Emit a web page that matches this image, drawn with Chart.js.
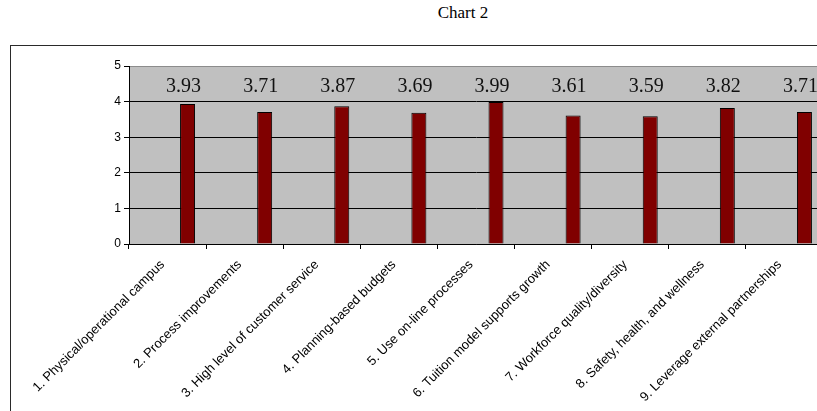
<!DOCTYPE html>
<html>
<head>
<meta charset="utf-8">
<script src="https://cdn.jsdelivr.net/npm/chart.js@4/dist/chart.umd.min.js"></script>
<style>
  html, body { margin: 0; padding: 0; background: #fff; overflow: hidden; width: 817px; height: 411px; }
  #title { position: absolute; left: 0; top: 3px; width: 926px; text-align: center;
           font: 17px "Liberation Serif", "Times New Roman", serif; color: #000; }
  #frame { position: absolute; left: 10px; top: 45px; width: 870px; height: 400px; border: 1px solid #2a2a2a; }
  #frame canvas { display: block; }
</style>
</head>
<body>
<div id="title">Chart 2</div>
<div id="frame"><canvas id="c" width="870" height="400"></canvas></div>
<script>
// Survey goal areas and their mean ratings (1-5 scale)
const categories = [
  "1. Physical/operational campus",
  "2. Process improvements",
  "3. High level of customer service",
  "4. Planning-based budgets",
  "5. Use on-line processes",
  "6. Tuition model supports growth",
  "7. Workforce quality/diversity",
  "8. Safety, health, and wellness",
  "9. Leverage external partnerships"
];
// The workbook series list holds two unused series ahead of the mean scores
const seriesA = [null, null, null, null, null, null, null, null, null];
const seriesB = [null, null, null, null, null, null, null, null, null];
const meanScores = [3.93, 3.71, 3.87, 3.69, 3.99, 3.61, 3.59, 3.82, 3.71];
const yTicks = [0, 1, 2, 3, 4, 5];

const PLOT_BG = '#c0c0c0';
const BAR_FILL = '#800000';

// Gray plot area with a soft top/right edge
const plotFill = {
  id: 'plotFill',
  beforeDraw(chart) {
    const { ctx, chartArea: a } = chart;
    ctx.save();
    ctx.fillStyle = PLOT_BG;
    ctx.fillRect(a.left, a.top, a.right - a.left, a.bottom - a.top);
    ctx.strokeStyle = '#8c8c8c';
    ctx.lineWidth = 1;
    ctx.beginPath();
    ctx.moveTo(a.left, Math.round(a.top) + 0.5);
    ctx.lineTo(a.right, Math.round(a.top) + 0.5);
    ctx.moveTo(Math.round(a.right) - 0.5, a.top);
    ctx.lineTo(Math.round(a.right) - 0.5, a.bottom);
    ctx.stroke();
    ctx.restore();
  }
};

// Mean values printed in a row across the top of the plot
const valueRow = {
  id: 'valueRow',
  afterDatasetsDraw(chart) {
    const { ctx, chartArea: a } = chart;
    const meta = chart.getDatasetMeta(2);
    ctx.save();
    ctx.font = '20px "Liberation Serif", "Times New Roman", serif';
    ctx.fillStyle = '#111';
    ctx.textAlign = 'center';
    ctx.textBaseline = 'middle';
    meta.data.forEach((bar, i) => {
      const v = chart.data.datasets[2].data[i];
      if (v == null) return;
      ctx.fillText(v.toFixed(2), bar.x - 4, a.top + 21);
    });
    ctx.restore();
  }
};

const barStyle = { backgroundColor: BAR_FILL, borderColor: '#000', borderWidth: 1,
                   categoryPercentage: 0.778, barPercentage: 0.75 };

new Chart(document.getElementById('c'), {
  type: 'bar',
  data: {
    labels: categories,
    datasets: [
      Object.assign({ label: 'A', data: seriesA }, barStyle),
      Object.assign({ label: 'B', data: seriesB }, barStyle),
      Object.assign({ label: 'Mean', data: meanScores }, barStyle)
    ]
  },
  options: {
    responsive: false,
    animation: false,
    devicePixelRatio: 1,
    layout: { padding: { top: 20, right: 58, bottom: 0, left: 0 } },
    plugins: { legend: { display: false }, tooltip: { enabled: false } },
    scales: {
      x: {
        offset: true,
        grid: { offset: true, drawOnChartArea: false, color: '#000', tickColor: '#000', tickLength: 5 },
        border: { color: '#000', width: 1 },
        ticks: {
          autoSkip: false, maxRotation: 45, minRotation: 45, padding: 8, labelOffset: -5,
          color: '#000', font: { family: 'Liberation Sans, Arial, sans-serif', size: 13 }
        },
        afterFit(s) { s.height = 202; }
      },
      y: {
        min: yTicks[0],
        max: yTicks[yTicks.length - 1],
        afterBuildTicks(s) { s.ticks = yTicks.map(v => ({ value: v })); },
        grid: {
          color: c => (c.tick && c.tick.value === 5) ? 'rgba(0,0,0,0)' : '#000',
          tickColor: '#000', tickLength: 5, lineWidth: 1
        },
        border: { color: '#000', width: 1 },
        ticks: { padding: 3, color: '#000', font: { family: 'Liberation Sans, Arial, sans-serif', size: 12 } },
        afterFit(s) { s.width = 118; }
      }
    }
  },
  plugins: [plotFill, valueRow]
});
</script>
</body>
</html>
